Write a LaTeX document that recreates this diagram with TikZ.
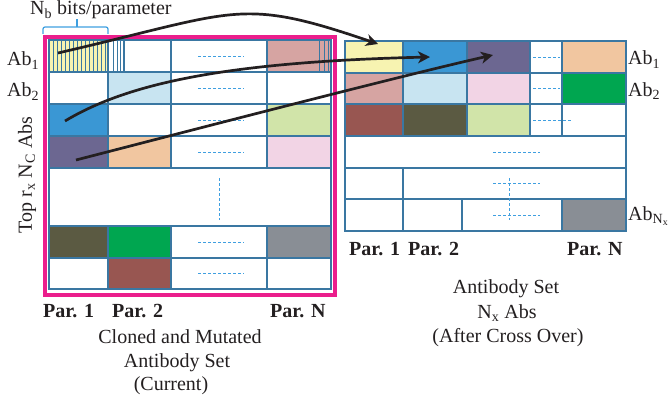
\documentclass[tikz,border=0pt]{standalone}
\usepackage{fontspec}
\setmainfont{Liberation Serif}
\usetikzlibrary{arrows.meta}
\definecolor{gridblue}{HTML}{3A77A2}
\definecolor{dashblue}{HTML}{3F9FE0}
\definecolor{framepink}{HTML}{EB1E8C}
\definecolor{arrowblack}{HTML}{231F20}
\definecolor{yellowc}{HTML}{F7F3B1}
\definecolor{rosec}{HTML}{D6A4A2}
\definecolor{ltbluec}{HTML}{C8E4F1}
\definecolor{bluec}{HTML}{3A97D4}
\definecolor{ltgreenc}{HTML}{D1E4A9}
\definecolor{purplec}{HTML}{6C6791}
\definecolor{peachc}{HTML}{F1C6A0}
\definecolor{pinkc}{HTML}{F2D4E5}
\definecolor{olivec}{HTML}{5B5A42}
\definecolor{greenc}{HTML}{00A650}
\definecolor{greyc}{HTML}{898E95}
\definecolor{brownc}{HTML}{985651}
\newcommand\mycell[6]{%
  \pgfmathsetmacro\mycw{#4-#2}\pgfmathsetmacro\mych{#5-#3}%
  \pgfmathsetmacro\mycx{(#2+#4)/2}\pgfmathsetmacro\mycy{(#3+#5)/2}%
  \node[cellst, fill=#6, minimum width=\mycw pt, minimum height=\mych pt] (#1) at (\mycx,\mycy) {};}
\begin{document}
\begin{tikzpicture}[x=1pt,y=-1pt,
  cellst/.style={draw=gridblue, line width=1.7pt, inner sep=0pt, outer sep=0pt, rectangle},
  outerline/.style={draw=gridblue, line width=2.8pt},
  dashline/.style={draw=dashblue, line width=0.9pt, dash pattern=on 3pt off 2pt},
  stripe/.style={draw=gridblue, line width=0.7pt},
  lbl/.style={font=\fontsize{20}{24}\selectfont, inner sep=0pt, text=arrowblack},
  parlbl/.style={font=\fontsize{20}{24}\selectfont\bfseries, inner sep=0pt, text=arrowblack, anchor=base west},
  arr/.style={draw=arrowblack, line width=2.7pt, -{Stealth[length=12pt,width=12pt,inset=3.5pt]}},
  bracest/.style={draw=dashblue, line width=1.2pt, rounded corners=2pt}]
\useasboundingbox (0,0) rectangle (671,401);

% ---------- left matrix ----------
\mycell{L11}{49}{40}{108}{72}{yellowc}
\mycell{L1b}{108}{40}{124}{72}{white}
\mycell{L12}{124}{40}{171}{72}{white}
\mycell{L13}{171}{40}{267}{72}{white}
\mycell{L14}{267}{40}{331}{72}{rosec}
\mycell{L21}{49}{72}{108}{104}{white}
\mycell{L22}{108}{72}{171}{104}{ltbluec}
\mycell{L23}{171}{72}{267}{104}{white}
\mycell{L24}{267}{72}{331}{104}{white}
\mycell{L31}{49}{104}{108}{136}{bluec}
\mycell{L32}{108}{104}{171}{136}{white}
\mycell{L33}{171}{104}{267}{136}{white}
\mycell{L34}{267}{104}{331}{136}{ltgreenc}
\mycell{L41}{49}{136}{108}{168}{purplec}
\mycell{L42}{108}{136}{171}{168}{peachc}
\mycell{L43}{171}{136}{267}{168}{white}
\mycell{L44}{267}{136}{331}{168}{pinkc}
\mycell{L5}{49}{168}{331}{226}{white}
\mycell{L61}{49}{226}{108}{258}{olivec}
\mycell{L62}{108}{226}{171}{258}{greenc}
\mycell{L63}{171}{226}{267}{258}{white}
\mycell{L64}{267}{226}{331}{258}{greyc}
\mycell{L71}{49}{258}{108}{289}{white}
\mycell{L72}{108}{258}{171}{289}{brownc}
\mycell{L73}{171}{258}{267}{289}{white}
\mycell{L74}{267}{258}{331}{289}{white}
\foreach \i in {1,...,14} \draw[stripe] (49+4*\i,40) -- (49+4*\i,72);
\foreach \xx in {113,117,120} \draw[stripe] (\xx,40) -- (\xx,72);
\foreach \xx in {319,324,328} \draw[stripe] (\xx,40) -- (\xx,72);
\draw[outerline] (L11.north west) rectangle (L74.south east);
\foreach \c in {L13,L23,L33,L43,L63,L73}
  \draw[dashline] ([xshift=-21pt]\c.center) -- ([xshift=25pt]\c.center);
\draw[dashline] (219,178) -- (219,220);
\draw[framepink, line width=4pt] (44.5,37) rectangle (335,295);

% brace
\draw[bracest] (43,34) -- (43,27) -- (108,27) -- (108,34);
\draw[bracest] (77,27) -- (77,19);
\node[lbl, anchor=base west] (nb) at (30,15) {N\textsubscript{b} bits/parameter};

% ---------- right matrix ----------
\mycell{R11}{345}{41}{403}{73}{yellowc}
\mycell{R12}{403}{41}{467}{73}{bluec}
\mycell{R13}{467}{41}{530}{73}{purplec}
\mycell{R14}{530}{41}{562}{73}{white}
\mycell{R15}{562}{41}{626}{73}{peachc}
\mycell{R21}{345}{73}{403}{104}{rosec}
\mycell{R22}{403}{73}{467}{104}{ltbluec}
\mycell{R23}{467}{73}{530}{104}{pinkc}
\mycell{R24}{530}{73}{562}{104}{white}
\mycell{R25}{562}{73}{626}{104}{greenc}
\mycell{R31}{345}{104}{403}{136}{brownc}
\mycell{R32}{403}{104}{467}{136}{olivec}
\mycell{R33}{467}{104}{530}{136}{ltgreenc}
\mycell{R34}{530}{104}{562}{136}{white}
\mycell{R35}{562}{104}{626}{136}{white}
\mycell{R4}{345}{136}{626}{168}{white}
\mycell{R51}{345}{168}{403}{199}{white}
\mycell{R52}{403}{168}{626}{199}{white}
\mycell{R61}{345}{199}{403}{231}{white}
\mycell{R62}{403}{199}{462}{231}{white}
\mycell{R63}{462}{199}{562}{231}{white}
\mycell{R64}{562}{199}{626}{231}{greyc}
\draw[outerline] (R11.north west) rectangle (R64.south east);
\draw[dashline] ([xshift=-13pt]R14.center) -- ([xshift=14pt]R14.center);
\draw[dashline] ([xshift=-13pt]R24.center) -- ([xshift=14pt]R24.center);
\draw[dashline] ([xshift=-13pt]R34.center) -- ([xshift=26pt]R34.center);
\draw[dashline] (493,152) -- (540,152);
\draw[dashline] (493,183.5) -- (540,183.5);
\draw[dashline] (493,215) -- (540,215);
\draw[dashline] (509,178) -- (509,220);

% ---------- labels ----------
\node[lbl, anchor=base west] (ab1L) at (7,66) {Ab\textsubscript{1}};
\node[lbl, anchor=base west] (ab2L) at (7,97) {Ab\textsubscript{2}};
\node[lbl, rotate=90] (topL) at (27,175) {Top r\textsubscript{x} N\textsubscript{C} Abs};
\node[lbl, anchor=base west] (ab1R) at (628,65) {Ab\textsubscript{1}};
\node[lbl, anchor=base west] (ab2R) at (628,96) {Ab\textsubscript{2}};
\node[lbl, anchor=base west] (abNR) at (628,220) {Ab\textsubscript{N\textsubscript{x}}};

\node[parlbl] (lp1) at (43,317) {Par. 1};
\node[parlbl] (lp2) at (112,317) {Par. 2};
\node[parlbl] (lpN) at (270,317) {Par. N};
\node[parlbl] (rp1) at (349,255) {Par. 1};
\node[parlbl] (rp2) at (408,255) {Par. 2};
\node[parlbl] (rpN) at (567,255) {Par. N};

\node[lbl, anchor=base] (capLa) at (180,343) {Cloned and Mutated};
\node[lbl, anchor=base] (capLb) at (177,367) {Antibody Set};
\node[lbl, anchor=base] (capLc) at (171,390) {(Current)};
\node[lbl, anchor=base] (capRa) at (506,293) {Antibody Set};
\node[lbl, anchor=base] (capRb) at (507,318) {N\textsubscript{x} Abs};
\node[lbl, anchor=base] (capRc) at (508,342) {(After Cross Over)};

% ---------- arrows ----------
\coordinate (s1) at (58,53);
\coordinate (e1) at (378,44);
\coordinate (s2) at (65,121);
\coordinate (e2) at (430,57);
\coordinate (s3) at (76,160);
\coordinate (e3) at (493,55);
\draw[arr] (s1) .. controls (238,11.6) and (238,-4) .. (e1);
\draw[arr] (s2) .. controls (125,85) and (220,62) .. (e2);
\draw[arr] (s3) .. controls (176,134.3) and (393,77.7) .. (e3);
\end{tikzpicture}
\end{document}
